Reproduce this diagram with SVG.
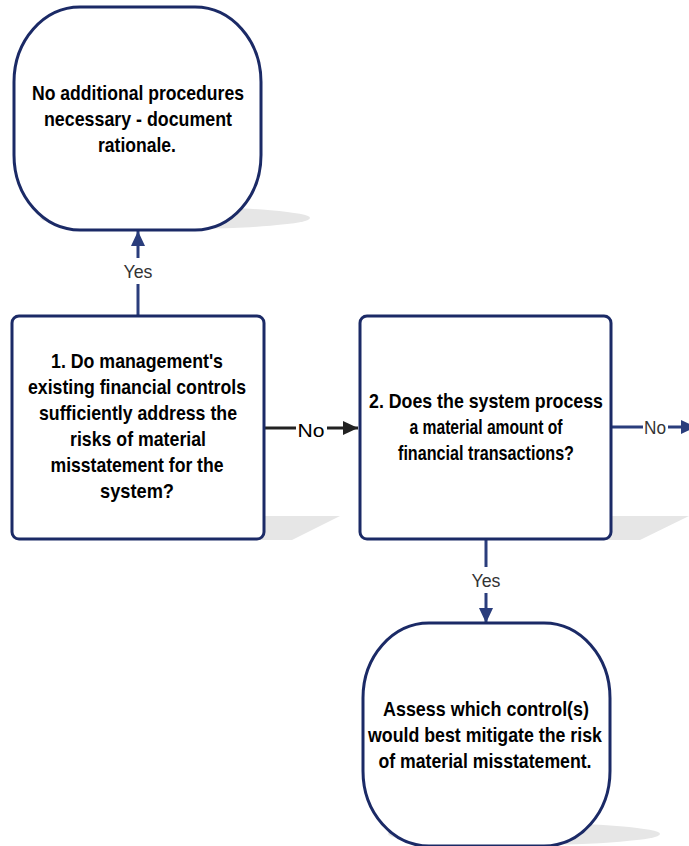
<svg xmlns="http://www.w3.org/2000/svg" width="689" height="846" viewBox="0 0 689 846">
<style>
.node{fill:#fff;stroke:#1b2a66;stroke-width:3}
.shadow{fill:#e6e6e6}
.t{font-family:"Liberation Sans",Arial,sans-serif;font-weight:bold;font-size:21px;fill:#000;text-anchor:middle}
.lbl{font-family:"Liberation Sans",Arial,sans-serif;font-size:19px;fill:#333;text-anchor:middle}
.conn{stroke:#2a3d7c;stroke-width:3;fill:none}
.connk{stroke:#222;stroke-width:3;fill:none}
</style>
<defs>
<marker id="ah" markerUnits="userSpaceOnUse" markerWidth="16" markerHeight="16" refX="15" refY="7" orient="auto"><path d="M0,0 L15,7 L0,14 Z" fill="#2a3d7c"/></marker>
<marker id="ahk" markerUnits="userSpaceOnUse" markerWidth="16" markerHeight="16" refX="15" refY="7" orient="auto"><path d="M0,0 L15,7 L0,14 Z" fill="#222"/></marker>
</defs>
<rect width="689" height="846" fill="#fff"/>
<g id="connectors">
<line class="conn" x1="138" y1="316" x2="138" y2="231" marker-end="url(#ah)"/>
<rect x="120" y="258" width="36" height="26" fill="#fff"/>
<text class="lbl" x="138" y="278" textLength="29" lengthAdjust="spacingAndGlyphs">Yes</text>
<line class="connk" x1="264" y1="428" x2="358" y2="428" marker-end="url(#ahk)"/>
<rect x="296" y="418" width="31" height="22" fill="#fff"/>
<text class="lbl" x="311" y="437" textLength="27" lengthAdjust="spacingAndGlyphs" style="fill:#000">No</text>
<line class="conn" x1="611" y1="427" x2="696" y2="427" marker-end="url(#ah)"/>
<rect x="643" y="417" width="25" height="22" fill="#fff"/>
<text class="lbl" x="655" y="434" textLength="22" lengthAdjust="spacingAndGlyphs">No</text>
<line class="conn" x1="486" y1="539" x2="486" y2="623" marker-end="url(#ah)"/>
<rect x="468" y="567" width="36" height="26" fill="#fff"/>
<text class="lbl" x="486" y="587" textLength="29" lengthAdjust="spacingAndGlyphs">Yes</text>
</g>
<g id="node-no-additional">
<ellipse class="shadow" cx="175" cy="218" rx="135" ry="11"/>
<rect class="node" x="14" y="7" width="247" height="223" rx="66" ry="75"/>
<text class="t" x="138" y="100" textLength="212" lengthAdjust="spacingAndGlyphs">No additional procedures</text>
<text class="t" x="138" y="126" textLength="188" lengthAdjust="spacingAndGlyphs">necessary - document</text>
<text class="t" x="137" y="152" textLength="78" lengthAdjust="spacingAndGlyphs">rationale.</text>
</g>
<g id="node-q1">
<polygon class="shadow" points="200,516 340,516 292,540 200,540"/>
<rect class="node" x="12" y="316" width="252" height="223" rx="7"/>
<text class="t" x="137" y="368" textLength="172" lengthAdjust="spacingAndGlyphs">1. Do management's</text>
<text class="t" x="137" y="394" textLength="218" lengthAdjust="spacingAndGlyphs">existing financial controls</text>
<text class="t" x="138" y="420" textLength="198" lengthAdjust="spacingAndGlyphs">sufficiently address the</text>
<text class="t" x="138" y="446" textLength="136" lengthAdjust="spacingAndGlyphs">risks of material</text>
<text class="t" x="137" y="472" textLength="173" lengthAdjust="spacingAndGlyphs">misstatement for the</text>
<text class="t" x="137" y="498" textLength="74" lengthAdjust="spacingAndGlyphs">system?</text>
</g>
<g id="node-q2">
<polygon class="shadow" points="548,516 689,516 640,540 548,540"/>
<rect class="node" x="360" y="316" width="251" height="223" rx="7"/>
<text class="t" x="486" y="408" textLength="234" lengthAdjust="spacingAndGlyphs">2. Does the system process</text>
<text class="t" x="486" y="434" textLength="153" lengthAdjust="spacingAndGlyphs">a material amount of</text>
<text class="t" x="486" y="460" textLength="176" lengthAdjust="spacingAndGlyphs">financial transactions?</text>
</g>
<g id="node-assess">
<ellipse class="shadow" cx="524" cy="834" rx="136" ry="11"/>
<rect class="node" x="363" y="623" width="247" height="223" rx="66" ry="75"/>
<text class="t" x="486" y="716" textLength="206" lengthAdjust="spacingAndGlyphs">Assess which control(s)</text>
<text class="t" x="485" y="742" textLength="234" lengthAdjust="spacingAndGlyphs">would best mitigate the risk</text>
<text class="t" x="485" y="768" textLength="213" lengthAdjust="spacingAndGlyphs">of material misstatement.</text>
</g>
</svg>
